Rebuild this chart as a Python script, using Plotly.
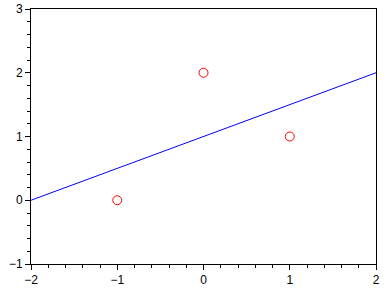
import plotly.graph_objects as go

pts_x = [-1, 0, 1]
pts_y = [0, 2, 1]
line_x = [-2, 2]
line_y = [0, 2]

fig = go.Figure()
fig.add_trace(go.Scatter(x=line_x, y=line_y, mode="lines",
                         line=dict(color="#0000ff", width=1), showlegend=False))
fig.add_trace(go.Scatter(x=pts_x, y=pts_y, mode="markers",
                         marker=dict(symbol="circle-open", size=9, color="#ff0000",
                                     line=dict(width=1, color="#ff0000")),
                         showlegend=False))

axis_common = dict(showgrid=False, zeroline=False, showline=True, linecolor="black",
                   linewidth=1, mirror=True, ticks="outside", ticklen=5, tickwidth=1,
                   tickcolor="black", automargin=False,
                   tickfont=dict(family="Liberation Sans, Arial", size=12, color="black"),
                   dtick=1)
fig.update_xaxes(range=[-2, 2], tick0=-2,
                 minor=dict(ticks="outside", ticklen=3, dtick=0.2, tickcolor="black", showgrid=False),
                 **axis_common)
fig.update_yaxes(range=[-1, 3], tick0=-1,
                 minor=dict(ticks="outside", ticklen=3, dtick=0.2, tickcolor="black", showgrid=False),
                 **axis_common)
fig.update_layout(width=388, height=288, margin=dict(l=31, r=12, t=9, b=24, autoexpand=False),
                  plot_bgcolor="white", paper_bgcolor="white")
fig.write_html("out.html")
